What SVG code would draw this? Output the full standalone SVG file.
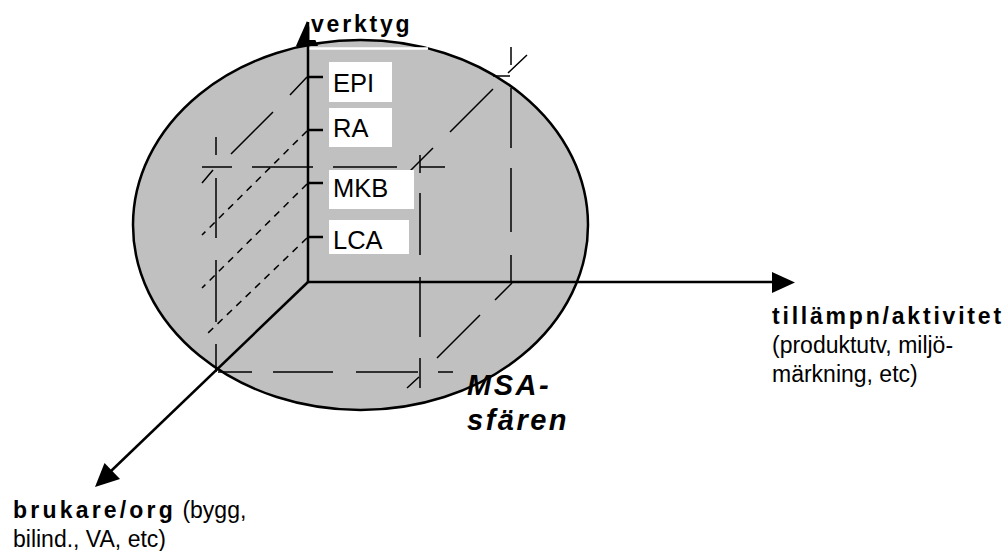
<svg xmlns="http://www.w3.org/2000/svg" width="1006" height="551" viewBox="0 0 1006 551">
<style>
.t{font-family:"Liberation Sans",Arial,sans-serif;fill:#000}
.b{font-weight:bold}
.lbl{font-size:25.5px}
.body{font-size:23px}
.ld{stroke:#000;stroke-width:1.5;fill:none}
.sd{stroke:#000;stroke-width:1.5;fill:none;stroke-dasharray:7 6}
.ax{stroke:#000;stroke-width:2.5;fill:none}
.box{fill:#fff}
</style>
<rect width="1006" height="551" fill="#fff"/>
<g id="sphere">
<ellipse cx="360.5" cy="225" rx="227.5" ry="185" fill="#c0c0c0" stroke="#000" stroke-width="2.5"/>
<line x1="308" y1="48.5" x2="428" y2="48.5" stroke="#fff" stroke-width="2.5"/>
</g>
<g id="cube">
<path class="ld" d="M202,167H232M252,167H313M333,167H397M420,167H445"/>
<path class="ld" d="M218,372H252M273,372H333M356,372H418M438,372H453"/>
<path class="ld" d="M216,137V155M216,178V238M216,260V322M216,344V372"/>
<path class="ld" d="M420,155V173M420,193V255M420,277V337M420,358V388"/>
<path class="ld" d="M511,47V65M511,88V148M511,168V232M511,255V282"/>
<path class="ld" d="M493,76H510"/>
<path class="ld" d="M307,77L290,95M273,112L231,154M213,170L202,183"/>
<path class="ld" d="M527,55L508,73M493,89L450,132M433,148L398,183"/>
<path class="ld" d="M512,283L495,300M480,315L437,358M419,377L407,388"/>
<path class="sd" d="M307,131L202,235"/>
<path class="sd" d="M307,184L202,288"/>
<path class="sd" d="M307,238L208,333"/>
</g>
<g id="connectors">
<path class="ax" d="M308,282H773"/>
<polygon points="772,272 795,282.5 772,293" fill="#000"/>
<path class="ax" d="M308,282L110,472"/>
<polygon points="95,487 104.5,463 120,479" fill="#000"/>
<polygon points="296,46 307,21 318,46" fill="#000"/>
<rect x="309.3" y="16" width="22" height="24" fill="#fff"/>
<path class="ax" d="M308,282V22"/>
<path class="ax" d="M308,77H323M308,130H323M308,183H323M308,237H323"/>
</g>
<g id="epi"><rect class="box" x="329" y="62" width="63" height="40"/><text class="t lbl" x="333" y="92">EPI</text></g>
<g id="ra"><rect class="box" x="329" y="108" width="63" height="39"/><text class="t lbl" x="333" y="137">RA</text></g>
<g id="mkb"><rect class="box" x="329" y="170" width="85" height="39"/><text class="t lbl" x="333" y="197">MKB</text></g>
<g id="lca"><rect class="box" x="329" y="220" width="80" height="34"/><text class="t lbl" x="333" y="249">LCA</text></g>
<g id="verktyg"><text class="t b body" x="311" y="32" letter-spacing="2.8">verktyg</text></g>
<g id="tillampn">
<text class="t body" x="772"><tspan class="b" x="772" y="324" letter-spacing="2.8">tillämpn/aktivitet</tspan><tspan x="772" y="353">(produktutv, miljö-</tspan><tspan x="772" y="382">märkning, etc)</tspan></text>
</g>
<g id="brukare">
<text class="t body" x="13"><tspan class="b" x="13" y="518" letter-spacing="3.2">brukare/org</tspan><tspan> (bygg,</tspan><tspan x="13" y="547">bilind., VA, etc)</tspan></text>
</g>
<g id="msa">
<text class="t b" font-style="italic" font-size="29" letter-spacing="2.5"><tspan x="467" y="395">MSA-</tspan><tspan x="467" y="430">sfären</tspan></text>
</g>
</svg>
